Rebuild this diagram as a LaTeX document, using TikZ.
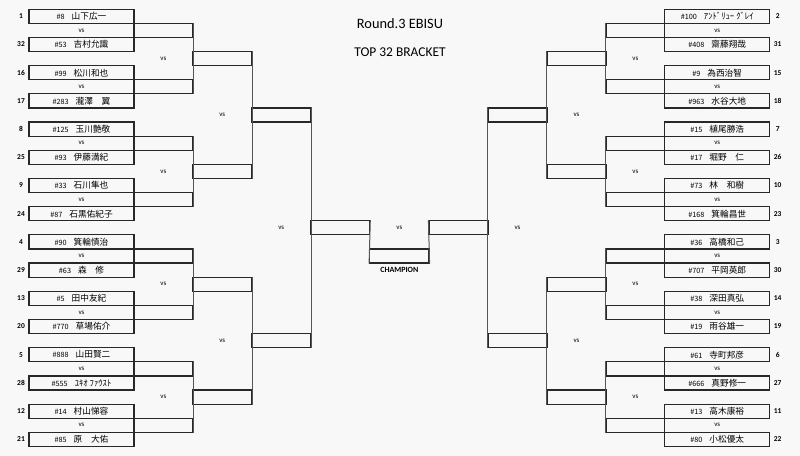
\documentclass[tikz,border=0pt]{standalone}
\usepackage{fontspec}
\setmainfont{Carlito}
\newfontfamily\jp{Noto Sans CJK JP}
\definecolor{bg}{RGB}{248,248,248}
\definecolor{ln}{RGB}{40,40,40}
\definecolor{vl}{RGB}{85,85,85}
\tikzset{
  pbox/.style={draw=ln, line width=1.2bp, rectangle, minimum width=105bp, minimum height=14.1bp, inner sep=0pt},
  crect/.style={draw=ln, line width=1.2bp, rectangle, minimum height=14.1bp, inner sep=0pt},
  vline/.style={draw=vl, line width=1bp},
  seedtxt/.style={font=\fontsize{7.5}{8}\selectfont\bfseries, inner sep=0pt},
  vstxt/.style={font=\fontsize{7}{8}\selectfont, inner sep=0pt},
  titletxt/.style={font=\fontsize{14.4}{16}\selectfont, inner sep=0pt},
  subtxt/.style={font=\fontsize{13.5}{15}\selectfont, inner sep=0pt},
  champtxt/.style={font=\fontsize{8}{9}\selectfont\bfseries, inner sep=0pt}
}
\newcommand\entry[2]{{\jp\fontsize{7.3}{8}\selectfont\##1}\hspace{7bp}{\jp\fontsize{8.7}{9}\selectfont #2}}
\begin{document}
\begin{tikzpicture}[x=1bp,y=-1bp]
\fill[bg] (0,0) rectangle (800,456);
\useasboundingbox (0,0) rectangle (800,456);
\node[titletxt] (t1) at (400,23.3) {Round.3 EBISU};
\node[subtxt] (t2) at (400,52.3) {TOP 32 BRACKET};
% left players
\foreach [count=\i from 0] \sd/\nu/\nm in {1/8/山下広一, 32/53/吉村允識, 16/99/松川和也, 17/283/瀧澤　翼, 8/125/玉川艶敬, 25/93/伊藤満紀, 9/33/石川隼也, 24/87/石黒佑紀子, 4/90/箕輪慎治, 29/63/森　修, 13/5/田中友紀, 20/770/草場佑介, 5/888/山田賢二, 28/555/ﾕｷｵ ﾌｧｳｽﾄ, 12/14/村山悌容, 21/85/原　大佑} {
  \pgfmathsetmacro\yc{9.3+14.1*(2*\i+0.5)}
  \node[pbox] (L\i) at (81.5,\yc) {\entry{\nu}{\nm}};
  \node[seedtxt] (LS\i) at (21,\yc) {\sd};
}
% right players
\foreach [count=\i from 0] \sd/\nu/\nm in {2/100/ｱﾝﾄﾞﾘｭｰ ｸﾞﾚｲ, 31/408/齋藤翔哉, 15/9/為西治智, 18/963/水谷大地, 7/15/植尾勝浩, 26/17/堀野　仁, 10/73/林　和樹, 23/168/箕輪昌世, 3/36/高橋和己, 30/707/平岡英郎, 14/38/深田真弘, 19/19/雨谷雄一, 6/61/寺町邦彦, 27/666/真野修一, 11/13/高木康裕, 22/80/小松優太} {
  \pgfmathsetmacro\yc{9.3+14.1*(2*\i+0.5)}
  \node[pbox] (R\i) at (717.2,\yc) {\entry{\nu}{\nm}};
  \node[seedtxt] (RS\i) at (777.7,\yc) {\sd};
}
% bracket structure for both sides
\foreach \sdn/\sg/\ne/\se in {L/1/north east/south east, R/-1/north west/south west} {
  % round 1
  \foreach \p in {0,...,7} {
    \pgfmathsetmacro\yc{9.3+14.1*(4*\p+1.5)}
    \node[crect, minimum width=58.7bp] (\sdn A\p) at (399.35-\sg*236,\yc) {};
    \node[vstxt] (\sdn Av\p) at (399.35-\sg*317.85,\yc) {vs};
  }
  % round 2
  \foreach \q in {0,...,3} {
    \pgfmathsetmacro\yc{9.3+14.1*(8*\q+3.5)}
    \pgfmathtruncatemacro\pa{2*\q}
    \pgfmathtruncatemacro\pb{2*\q+1}
    \node[crect, minimum width=59bp] (\sdn B\q) at (399.35-\sg*177.15,\yc) {};
    \node[vstxt] (\sdn Bv\q) at (399.35-\sg*236,\yc) {vs};
    \draw[vline] (\sdn A\pa.\ne) -- (\sdn A\pb.\se);
  }
  % round 3
  \foreach \o in {0,1} {
    \pgfmathsetmacro\yc{9.3+14.1*(16*\o+7.5)}
    \pgfmathtruncatemacro\qa{2*\o}
    \pgfmathtruncatemacro\qb{2*\o+1}
    \node[crect, minimum width=59bp] (\sdn C\o) at (399.35-\sg*118.15,\yc) {};
    \node[vstxt] (\sdn Cv\o) at (399.35-\sg*177.15,\yc) {vs};
    \draw[vline] (\sdn B\qa.\ne) -- (\sdn B\qb.\se);
  }
  % semi final
  \pgfmathsetmacro\yc{9.3+14.1*15.5}
  \node[crect, minimum width=59bp] (\sdn D) at (399.35-\sg*59.15,\yc) {};
  \node[vstxt] (\sdn Dv) at (399.35-\sg*118.15,\yc) {vs};
  \draw[vline] (\sdn C0.\ne) -- (\sdn C1.\se);
}
% final
\node[crect, minimum width=59.3bp] (F) at (399.35,{9.3+14.1*17.5}) {};
\node[vstxt] (Fv) at (399.35,{9.3+14.1*15.5}) {vs};
\node[champtxt] (champ) at (399.35,{9.3+14.1*18.5}) {CHAMPION};
\draw[vline] (LD.north east) -- (F.south west);
\draw[vline] (RD.north west) -- (F.south east);
\end{tikzpicture}
\end{document}
